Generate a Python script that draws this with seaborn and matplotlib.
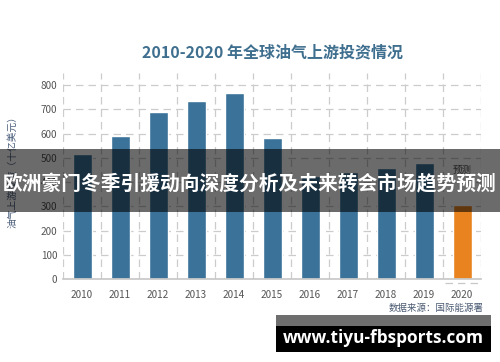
import matplotlib
matplotlib.use("Agg")
import matplotlib.pyplot as plt
from matplotlib.patches import Rectangle
import seaborn as sns
import pandas as pd

years = ["2010", "2011", "2012", "2013", "2014", "2015", "2016", "2017", "2018", "2019", "2020"]
investment = [515, 590, 688, 734, 766, 581, 426, 440, 459, 478, 305]
bar_colors = ["#3a7299"] * 10 + ["#e8831f"]
yticks = [0, 100, 200, 300, 400, 500, 600, 700, 800]

title = "2010-2020 年全球油气上游投资情况"
ylabel = "油气上游投资（十亿美元）"
source = "数据来源：国际能源署"
forecast_label = "预测"
banner_text = "欧洲豪门冬季引援动向深度分析及未来转会市场趋势预测"
watermark = "www.tiyu-fbsports.com"

sns.set_theme(style="white")
plt.rcParams["font.family"] = ["Noto Sans CJK SC", "DejaVu Sans"]

df = pd.DataFrame({"year": years, "value": investment})

fig = plt.figure(figsize=(5.0, 3.62), dpi=100)
ax = fig.add_axes([63 / 500, 83 / 362, 418 / 500, 206 / 362])

sns.barplot(data=df, x="year", y="value", hue="year", palette=bar_colors,
            width=0.5, legend=False, ax=ax, saturation=1)

ax.set_xlim(-0.5, len(years) - 0.5)
ax.set_ylim(0, 850)
ax.set_yticks(yticks)
ax.set_xlabel("")
ax.set_ylabel("")

for y in yticks:
    ax.axhline(y, color="#cccccc", lw=0.9, ls=(0, (6, 4)), zorder=0)
for i in range(len(years) + 1):
    ax.axvline(i - 0.5, color="#cccccc", lw=0.9, ls=(0, (6, 4)), zorder=0)

for s in ["top", "right", "left"]:
    ax.spines[s].set_visible(False)
ax.spines["bottom"].set_color("#c8c8c8")
ax.tick_params(axis="both", labelsize=7.2, colors="#555555", length=0, pad=4)
ax.tick_params(axis="x", pad=8)

# forecast marker
n = len(years) - 1
ax.text(n, 449, forecast_label, ha="center", va="center", fontsize=6.8, color="#555555")
ax.plot([n - 0.45, n + 0.45], [-18, -18], color="#c8c8c8", lw=0.9, ls=(0, (6, 4)), clip_on=False)

fig.text(273 / 500, 1 - 52 / 362, title, ha="center", va="center",
         fontsize=11.5, fontweight="bold", color="#3f6f8f")
fig.text(12 / 500, 1 - 170 / 362, ylabel, rotation=90, ha="center", va="center",
         fontsize=7, color="#4a5d7a")
fig.text(484 / 500, 1 - 308 / 362, source, ha="right", va="center",
         fontsize=6.8, color="#4a5a72")

# overlay banner
fig.patches.append(Rectangle((0, 1 - 212 / 362), 1, 63 / 362, transform=fig.transFigure,
                             facecolor="black", alpha=0.58, edgecolor="none", zorder=5))
fig.text(0.5, 1 - 184 / 362, banner_text, ha="center", va="center", fontsize=14.2,
         fontweight="bold", color="white", zorder=6)

# watermark
fig.patches.append(Rectangle((276 / 500, 1 - 326 / 362), 215 / 500, 11 / 362,
                             transform=fig.transFigure, facecolor="#6e6e6e",
                             edgecolor="none", zorder=5))
fig.patches.append(Rectangle((276 / 500, 1 - 352 / 362), 215 / 500, 26 / 362,
                             transform=fig.transFigure, facecolor="black",
                             edgecolor="none", zorder=5))
fig.text(383 / 500, 1 - 338 / 362, watermark, ha="center", va="center", fontsize=12.4,
         fontweight="bold", color="white", family=["Open Sans", "DejaVu Sans"], zorder=6)

fig.savefig("out.png", dpi=100)
